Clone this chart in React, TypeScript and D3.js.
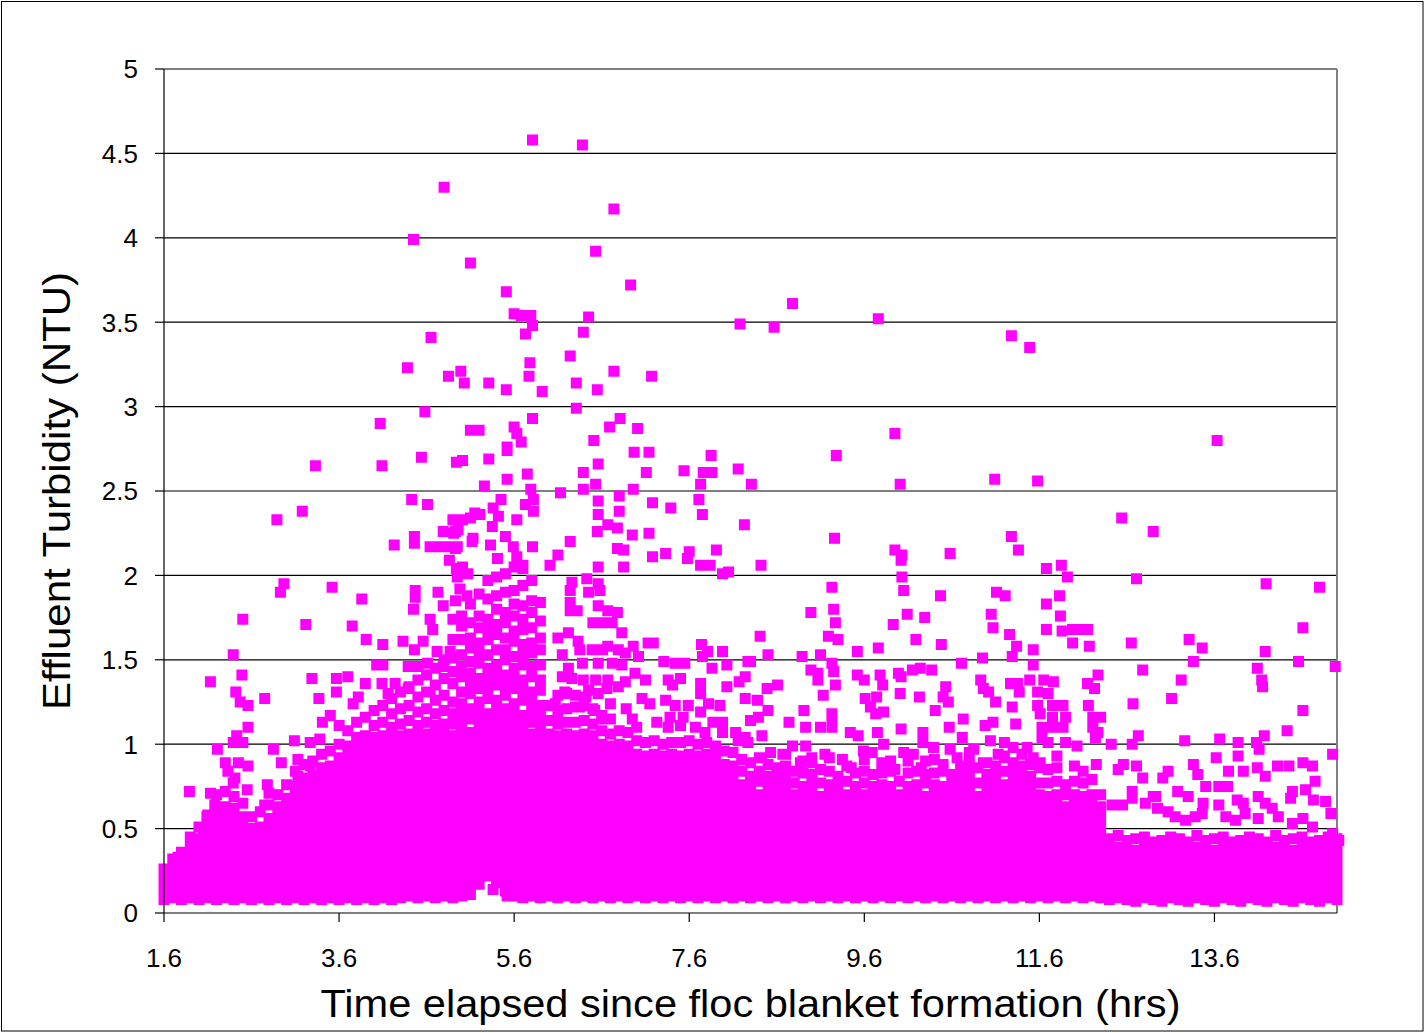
import * as d3 from 'd3'

// axis ticks
const xTicks = [1.6, 3.6, 5.6, 7.6, 9.6, 11.6, 13.6]
const yTicks = [0, 0.5, 1, 1.5, 2, 2.5, 3, 3.5, 4, 4.5, 5]

// dense part of the cloud, read column by column (hours, turbidity in hundredths of NTU)
const cloudHours = [
  1.6, 1.7, 1.8, 1.9, 2.0, 2.1, 2.2, 2.3, 2.4, 2.5, 2.6, 2.7, 2.8, 2.9, 3.0, 3.1, 3.2, 3.3, 3.4, 3.5,
  3.6, 3.7, 3.8, 3.9, 4.0, 4.1, 4.2, 4.3, 4.4, 4.5, 4.6, 4.7, 4.8, 4.9, 5.0, 5.1, 5.2, 5.3, 5.4, 5.5,
  5.6, 5.7, 5.8, 5.9, 6.0, 6.1, 6.2, 6.3, 6.4, 6.5, 6.6, 6.7, 6.8, 6.9, 7.0, 7.1, 7.2, 7.3, 7.4, 7.5,
  7.6, 7.7, 7.8, 7.9, 8.0, 8.1, 8.2, 8.3, 8.4, 8.5, 8.6, 8.7, 8.8, 8.9, 9.0, 9.1, 9.2, 9.3, 9.4, 9.5,
  9.6, 9.7, 9.8, 9.9, 10.0, 10.1, 10.2, 10.3, 10.4, 10.5, 10.6, 10.7, 10.8, 10.9, 11.0, 11.1, 11.2, 11.3, 11.4, 11.5,
  11.6, 11.7, 11.8, 11.9, 12.0, 12.1, 12.2, 12.3, 12.4, 12.5, 12.6, 12.7, 12.8, 12.9, 13.0, 13.1, 13.2, 13.3, 13.4, 13.5,
  13.6, 13.7, 13.8, 13.9, 14.0, 14.1, 14.2, 14.3, 14.4, 14.5, 14.6, 14.7, 14.8, 14.9, 15.0,
]

const cloudCentiNTU: number[][] = [
  [8, 14, 20, 26],
  [9, 15, 21, 27, 32],
  [8, 14, 20, 26, 32, 36],
  [9, 15, 21, 27, 33, 39, 45],
  [8, 14, 20, 26, 32, 38, 44, 51],
  [9, 15, 21, 27, 33, 39, 45, 51, 58],
  [8, 14, 20, 26, 32, 38, 44, 50, 56, 62, 70],
  [9, 15, 21, 27, 33, 39, 45, 51, 57, 63, 72],
  [8, 14, 20, 26, 32, 38, 44, 50, 56, 62, 69],
  [9, 15, 21, 27, 33, 39, 45, 51, 57, 65],
  [8, 14, 20, 26, 32, 38, 44, 50, 57],
  [9, 15, 21, 27, 33, 39, 45, 51, 60],
  [8, 14, 20, 26, 32, 38, 44, 50, 56, 64],
  [9, 15, 21, 27, 33, 39, 45, 51, 57, 63, 70],
  [8, 14, 20, 26, 32, 38, 44, 50, 56, 62, 68, 76],
  [9, 15, 21, 27, 33, 39, 45, 51, 57, 63, 69, 75, 84],
  [8, 14, 20, 26, 32, 38, 44, 50, 56, 62, 68, 74, 80, 88],
  [9, 15, 21, 27, 33, 39, 45, 51, 57, 63, 69, 75, 81, 90],
  [8, 14, 20, 26, 32, 38, 44, 50, 56, 62, 68, 74, 80, 86, 94],
  [9, 15, 21, 27, 33, 39, 45, 51, 57, 63, 69, 75, 81, 87, 96],
  [8, 14, 20, 26, 32, 38, 44, 50, 56, 62, 68, 74, 80, 86, 92, 100],
  [9, 15, 21, 27, 33, 39, 45, 51, 57, 63, 69, 75, 81, 87, 93, 99, 108],
  [8, 14, 20, 26, 32, 38, 44, 50, 56, 62, 68, 74, 80, 86, 92, 98, 104, 113],
  [9, 15, 21, 27, 33, 39, 45, 51, 57, 63, 69, 75, 81, 87, 93, 99, 105, 116],
  [8, 14, 20, 26, 32, 38, 44, 50, 56, 62, 68, 74, 80, 86, 92, 98, 104, 111, 120],
  [9, 15, 21, 27, 33, 39, 45, 51, 57, 63, 69, 75, 81, 87, 93, 99, 105, 113, 123],
  [8, 14, 20, 26, 32, 38, 44, 50, 56, 62, 68, 74, 80, 86, 92, 98, 104, 110, 118, 127],
  [9, 15, 21, 27, 33, 39, 45, 51, 57, 63, 69, 75, 81, 87, 93, 99, 105, 112, 121, 131],
  [10, 16, 22, 28, 34, 40, 46, 52, 58, 64, 70, 76, 82, 88, 94, 100, 106, 114, 123, 134],
  [9, 15, 21, 27, 33, 39, 45, 51, 57, 63, 69, 75, 81, 87, 93, 99, 105, 111, 119, 128, 138],
  [10, 16, 22, 28, 34, 40, 46, 52, 58, 64, 70, 76, 82, 88, 94, 100, 106, 113, 121, 131, 141],
  [9, 15, 21, 27, 33, 39, 45, 51, 57, 63, 69, 75, 81, 87, 93, 99, 105, 111, 118, 126, 135, 145],
  [10, 16, 22, 28, 34, 40, 46, 52, 58, 64, 70, 76, 82, 88, 94, 100, 106, 112, 120, 129, 139, 150],
  [9, 15, 21, 27, 33, 39, 45, 51, 57, 63, 69, 75, 81, 87, 93, 99, 105, 112, 118, 125, 136, 143, 151, 162],
  [10, 16, 22, 28, 34, 40, 46, 52, 58, 64, 70, 76, 82, 88, 94, 100, 106, 112, 118, 124, 131, 140, 146, 153, 162, 170, 176],
  [11, 17, 23, 29, 35, 41, 47, 53, 59, 65, 71, 77, 83, 89, 95, 101, 107, 115, 121, 130, 136, 142, 149, 157, 163, 172, 183],
  [17, 23, 29, 35, 41, 47, 53, 59, 65, 71, 77, 83, 89, 95, 101, 107, 113, 119, 125, 133, 139, 148, 154, 160, 169, 176, 189],
  [22, 28, 34, 40, 46, 52, 58, 64, 70, 76, 82, 88, 94, 100, 106, 112, 118, 127, 133, 139, 145, 153, 162, 168, 174, 186, 197],
  [18, 24, 30, 36, 42, 48, 54, 60, 66, 72, 78, 84, 90, 96, 102, 108, 114, 120, 126, 135, 141, 147, 156, 165, 171, 180, 188, 199],
  [13, 19, 25, 31, 37, 43, 49, 55, 61, 67, 73, 79, 85, 91, 97, 103, 109, 115, 121, 129, 135, 141, 150, 156, 163, 172, 178, 190, 201],
  [10, 16, 22, 28, 34, 40, 46, 52, 58, 64, 70, 76, 82, 88, 94, 100, 106, 112, 118, 124, 133, 139, 145, 152, 161, 167, 176, 183, 191, 205],
  [9, 15, 21, 27, 33, 39, 45, 51, 57, 63, 69, 75, 81, 87, 93, 99, 105, 111, 117, 126, 132, 138, 147, 153, 159, 168, 174, 182, 194, 204],
  [10, 16, 22, 28, 34, 40, 46, 52, 58, 64, 70, 76, 82, 88, 94, 100, 106, 113, 119, 125, 131, 140, 146, 154, 160, 169, 178, 185, 197],
  [9, 15, 21, 27, 33, 39, 45, 51, 57, 63, 69, 75, 81, 87, 93, 99, 105, 111, 117, 123, 132, 138, 147, 156, 163, 173, 184],
  [10, 16, 22, 28, 34, 40, 46, 52, 58, 64, 70, 76, 82, 88, 94, 100, 106, 114, 123],
  [9, 15, 21, 27, 33, 39, 45, 51, 57, 63, 69, 75, 81, 87, 93, 99, 105, 112, 120, 129],
  [10, 16, 22, 28, 34, 40, 46, 52, 58, 64, 70, 76, 82, 88, 94, 100, 106, 113, 121, 130],
  [9, 15, 21, 27, 33, 39, 45, 51, 57, 63, 69, 75, 81, 87, 93, 99, 105, 113, 122],
  [10, 16, 22, 28, 34, 40, 46, 52, 58, 64, 70, 76, 82, 88, 94, 100, 106, 114, 123],
  [9, 15, 21, 27, 33, 39, 45, 51, 57, 63, 69, 75, 81, 87, 93, 99, 105, 112, 121],
  [10, 16, 22, 28, 34, 40, 46, 52, 58, 64, 70, 76, 82, 88, 94, 100, 108, 117],
  [9, 15, 21, 27, 33, 39, 45, 51, 57, 63, 69, 75, 81, 87, 93, 99, 106, 115],
  [10, 16, 22, 28, 34, 40, 46, 52, 58, 64, 70, 76, 82, 88, 94, 100, 108],
  [9, 15, 21, 27, 33, 39, 45, 51, 57, 63, 69, 75, 81, 87, 93, 99, 107],
  [10, 16, 22, 28, 34, 40, 46, 52, 58, 64, 70, 76, 82, 88, 94, 102, 110],
  [9, 15, 21, 27, 33, 39, 45, 51, 57, 63, 69, 75, 81, 87, 93, 101],
  [10, 16, 22, 28, 34, 40, 46, 52, 58, 64, 70, 76, 82, 88, 94, 102],
  [9, 15, 21, 27, 33, 39, 45, 51, 57, 63, 69, 75, 81, 87, 93, 100],
  [10, 16, 22, 28, 34, 40, 46, 52, 58, 64, 70, 76, 82, 88, 94, 101],
  [9, 15, 21, 27, 33, 39, 45, 51, 57, 63, 69, 75, 81, 87, 93, 101],
  [10, 16, 22, 28, 34, 40, 46, 52, 58, 64, 70, 76, 82, 88, 94, 102],
  [9, 15, 21, 27, 33, 39, 45, 51, 57, 63, 69, 75, 81, 87, 93, 100],
  [10, 16, 22, 28, 34, 40, 46, 52, 58, 64, 70, 76, 82, 88, 94, 101],
  [9, 15, 21, 27, 33, 39, 45, 51, 57, 63, 69, 75, 81, 87, 93, 99],
  [10, 16, 22, 28, 34, 40, 46, 52, 58, 64, 70, 76, 82, 88, 96],
  [9, 15, 21, 27, 33, 39, 45, 51, 57, 63, 69, 75, 81, 87, 95],
  [10, 16, 22, 28, 34, 40, 46, 52, 58, 64, 70, 76, 84, 91],
  [9, 15, 21, 27, 33, 39, 45, 51, 57, 63, 69, 75, 81, 89],
  [10, 16, 22, 28, 34, 40, 46, 52, 58, 64, 70, 78, 84, 92],
  [9, 15, 21, 27, 33, 39, 45, 51, 57, 63, 69, 75, 81, 88],
  [10, 16, 22, 28, 34, 40, 46, 52, 58, 64, 70, 76, 86],
  [9, 15, 21, 27, 33, 39, 45, 51, 57, 63, 69, 75, 81, 87, 94],
  [10, 16, 22, 28, 34, 40, 46, 52, 58, 64, 70, 77, 84],
  [9, 15, 21, 27, 33, 39, 45, 51, 57, 63, 69, 75, 83, 90],
  [10, 16, 22, 28, 34, 40, 46, 52, 58, 64, 70, 76, 82, 89],
  [9, 15, 21, 27, 33, 39, 45, 51, 57, 63, 69, 77, 85],
  [10, 16, 22, 28, 34, 40, 46, 52, 58, 64, 70, 76, 84, 92],
  [9, 15, 21, 27, 33, 39, 45, 51, 57, 63, 69, 75, 81],
  [10, 16, 22, 28, 34, 40, 46, 52, 58, 64, 70, 78, 87],
  [9, 15, 21, 27, 33, 39, 45, 51, 57, 63, 69, 75, 83],
  [10, 16, 22, 28, 34, 40, 46, 52, 58, 64, 70, 77, 84, 91],
  [9, 15, 21, 27, 33, 39, 45, 51, 57, 63, 69, 75, 82],
  [10, 16, 22, 28, 34, 40, 46, 52, 58, 64, 70, 76, 83, 89],
  [9, 15, 21, 27, 33, 39, 45, 51, 57, 63, 69, 75, 84],
  [10, 16, 22, 28, 34, 40, 46, 52, 58, 64, 70, 78],
  [9, 15, 21, 27, 33, 39, 45, 51, 57, 63, 69, 75, 83, 90],
  [10, 16, 22, 28, 34, 40, 46, 52, 58, 64, 70, 76, 84],
  [9, 15, 21, 27, 33, 39, 45, 51, 57, 63, 69, 77, 82],
  [10, 16, 22, 28, 34, 40, 46, 52, 58, 64, 70, 76, 83, 91],
  [9, 15, 21, 27, 33, 39, 45, 51, 57, 63, 69, 75, 84],
  [10, 16, 22, 28, 34, 40, 46, 52, 58, 64, 70, 76, 82],
  [9, 15, 21, 27, 33, 39, 45, 51, 57, 63, 69, 75, 81, 87],
  [10, 16, 22, 28, 34, 40, 46, 52, 58, 64, 70, 76, 82, 88, 95],
  [9, 15, 21, 27, 33, 39, 45, 51, 57, 63, 69, 77, 86],
  [10, 16, 22, 28, 34, 40, 46, 52, 58, 64, 70, 76, 82, 89],
  [9, 15, 21, 27, 33, 39, 45, 51, 57, 63, 69, 75, 81, 87],
  [10, 16, 22, 28, 34, 40, 46, 52, 58, 64, 70, 76, 84, 92],
  [9, 15, 21, 27, 33, 39, 45, 51, 57, 63, 69, 75, 81, 86],
  [10, 16, 22, 28, 34, 40, 46, 52, 58, 64, 70, 76, 82, 87, 94],
  [9, 15, 21, 27, 33, 39, 45, 51, 57, 63, 69, 75, 81, 88],
  [10, 16, 22, 28, 34, 40, 46, 52, 58, 64, 70, 77, 86],
  [9, 15, 21, 27, 33, 39, 45, 51, 57, 63, 69, 77, 85],
  [10, 16, 22, 28, 34, 40, 46, 52, 58, 64, 70, 78, 86, 93],
  [9, 15, 21, 27, 33, 39, 45, 51, 57, 63, 70, 76],
  [10, 16, 22, 28, 34, 40, 46, 52, 58, 64, 70, 78, 87],
  [9, 15, 21, 27, 33, 39, 45, 51, 57, 63, 69, 77, 84],
  [10, 16, 22, 28, 34, 40, 46, 52, 58, 64, 70, 79],
  [9, 15, 21, 27, 33, 39, 45, 51, 57, 63, 70],
  [8, 14, 20, 26, 32, 38, 44],
  [9, 15, 21, 27, 33, 39, 46],
  [8, 14, 20, 26, 32, 38, 43],
  [7, 13, 19, 25, 31, 37, 44],
  [9, 15, 21, 27, 33, 39, 45],
  [8, 14, 20, 26, 32, 38, 42],
  [7, 13, 19, 25, 31, 37, 43],
  [9, 15, 21, 27, 33, 39, 45],
  [8, 14, 20, 26, 32, 38, 44],
  [7, 13, 19, 25, 31, 37, 42],
  [9, 15, 21, 27, 33, 39, 46],
  [8, 14, 20, 26, 32, 38, 43],
  [7, 13, 19, 25, 31, 37, 44],
  [9, 15, 21, 27, 33, 39, 45],
  [8, 14, 20, 26, 32, 38, 42],
  [7, 13, 19, 25, 31, 37, 43],
  [9, 15, 21, 27, 33, 39, 45],
  [8, 14, 20, 26, 32, 38, 44],
  [7, 13, 19, 25, 31, 37, 42],
  [9, 15, 21, 27, 33, 39, 46],
  [8, 14, 20, 26, 32, 38, 43],
  [7, 13, 19, 25, 31, 37, 44],
  [9, 15, 21, 27, 33, 39, 45],
  [8, 14, 20, 26, 32, 38, 42],
  [7, 13, 19, 25, 31, 37, 43],
  [9, 15, 21, 27, 33, 39, 45],
  [8, 14, 20, 26, 32, 38, 44],
]

// scattered readings above the dense cloud: [hours, NTU]
const peaks: [number, number][] = [
  [5.81, 4.58], [6.38, 4.55], [4.8, 4.3], [6.74, 4.17], [4.45, 3.99], [6.53, 3.92], [5.1, 3.85], [6.93, 3.72], [5.51, 3.68], [8.78, 3.61],
  [5.6, 3.55], [5.68, 3.54], [5.79, 3.54], [5.81, 3.48], [5.73, 3.43], [9.76, 3.52], [6.45, 3.53], [8.18, 3.49], [8.57, 3.47], [6.39, 3.44],
  [11.28, 3.42], [4.65, 3.41], [11.49, 3.35], [6.24, 3.3], [5.78, 3.26], [4.38, 3.23], [4.99, 3.21], [6.74, 3.21], [4.85, 3.18], [5.77, 3.18],
  [7.17, 3.18], [5.03, 3.14], [5.31, 3.14], [6.31, 3.14], [5.51, 3.1], [6.55, 3.1], [5.92, 3.09], [6.31, 2.99], [4.58, 2.97], [5.81, 2.93],
  [6.81, 2.93], [4.07, 2.9], [5.6, 2.88], [5.63, 2.84], [5.68, 2.79], [6.69, 2.88], [7.01, 2.87], [5.1, 2.86], [5.2, 2.86], [9.95, 2.84],
  [13.63, 2.8], [6.51, 2.8], [5.52, 2.76], [6.97, 2.73], [7.14, 2.73], [7.85, 2.71], [9.28, 2.71], [4.54, 2.7], [4.94, 2.67], [5.01, 2.68],
  [5.31, 2.69], [3.33, 2.65], [4.09, 2.65], [10.01, 2.54], [11.09, 2.57], [11.58, 2.56], [8.31, 2.54],
]

const midCloud: [number, number][] = [
  [5.52, 2.57], [5.26, 2.53], [5.75, 2.6], [5.52, 2.74], [5.79, 2.51], [5.82, 2.45], [5.45, 2.45], [5.36, 2.4], [5.21, 2.36], [5.1, 2.34],
  [5.73, 2.42], [5.82, 2.38], [5.63, 2.33], [5.42, 2.35], [5.35, 2.29], [5.5, 2.23], [5.13, 2.22], [5.33, 2.18], [5.59, 2.17], [5.81, 2.17],
  [5.63, 2.11], [5.41, 2.1], [5.7, 2.06], [6.01, 2.06], [6.1, 2.12], [6.24, 2.2], [6.13, 2.49], [6.39, 2.61], [6.56, 2.66], [6.53, 2.54],
  [6.39, 2.51], [6.56, 2.44], [6.8, 2.47], [6.96, 2.51], [6.56, 2.36], [6.8, 2.38], [6.67, 2.3], [6.55, 2.26], [6.78, 2.28], [6.95, 2.24],
  [7.14, 2.25], [6.78, 2.16], [6.85, 2.15], [7.18, 2.11], [7.33, 2.13], [6.56, 2.05], [6.85, 2.05], [7.11, 2.61], [7.54, 2.62], [7.18, 2.43],
  [7.39, 2.4], [7.76, 2.61], [7.86, 2.61], [7.73, 2.54], [7.71, 2.45], [7.75, 2.36], [7.6, 2.14], [7.58, 2.1], [7.73, 2.06], [7.84, 2.06],
  [7.91, 2.15], [8.16, 2.63], [8.23, 2.3], [7.98, 2.01], [8.05, 2.02],
  [5.01, 2.33], [5.15, 2.37], [4.93, 2.26], [4.96, 2.27], [5.12, 2.2], [4.93, 2.16], [5.01, 2.05], [4.95, 1.99], [5.07, 2.01],
  [4.98, 1.92], [5.06, 1.88], [4.93, 1.85], [5.36, 0.14], [5.52, 0.1],
  [4.43, 2.45], [4.61, 2.42], [3.18, 2.38], [2.89, 2.33], [4.9, 2.33], [4.79, 2.26], [4.91, 2.25], [4.46, 2.23], [4.46, 2.19], [4.23, 2.18],
  [4.64, 2.17], [4.75, 2.17], [4.87, 2.17], [4.95, 2.17], [4.86, 2.09], [4.94, 2.04], [2.97, 1.95], [2.93, 1.9], [3.52, 1.93], [4.47, 1.91],
  [4.47, 1.87], [4.73, 1.9], [4.79, 1.82], [3.86, 1.86], [2.5, 1.74], [3.22, 1.71], [3.75, 1.7], [4.45, 1.8], [4.64, 1.74], [4.67, 1.68],
  [4.9, 1.74], [3.91, 1.62], [4.1, 1.59], [4.33, 1.61], [4.46, 1.56], [4.56, 1.61], [4.72, 1.55], [4.87, 1.55], [2.39, 1.53], [2.13, 1.37],
  [2.49, 1.41], [4.03, 1.47], [4.1, 1.47], [4.39, 1.46], [4.5, 1.46], [4.61, 1.48], [4.79, 1.46], [3.29, 1.39], [3.57, 1.39], [3.7, 1.4],
  [2.42, 1.31], [2.47, 1.25], [2.56, 1.23], [2.75, 1.27], [3.37, 1.27], [3.57, 1.31], [3.9, 1.36], [4.09, 1.36], [4.24, 1.36], [3.76, 1.24],
  [3.82, 1.28], [4.16, 1.3], [4.39, 1.33], [4.64, 1.31], [3.5, 1.17], [3.41, 1.13], [3.6, 1.11], [2.56, 1.1], [2.43, 1.05], [2.5, 1.01],
  [2.39, 1.01], [2.21, 0.97], [2.85, 0.97], [3.09, 1.02], [3.27, 1.01], [3.38, 1.03], [2.3, 0.89], [2.45, 0.89], [2.56, 0.87], [2.94, 0.89],
  [3.13, 0.91], [3.27, 0.87], [2.33, 0.84], [2.41, 0.8], [2.39, 0.77], [3.13, 0.81], [1.89, 0.72], [2.13, 0.71], [2.55, 0.73], [2.78, 0.76],
  [2.8, 0.71], [2.75, 0.64], [2.18, 0.64], [2.09, 0.57], [2.09, 0.51], [1.93, 0.43], [2.05, 0.45], [1.76, 0.33],
  [6.26, 1.96], [6.43, 1.98], [6.56, 1.95], [6.24, 1.91], [6.45, 1.9], [6.58, 1.91], [6.24, 1.84], [6.24, 1.79], [6.32, 1.79], [6.56, 1.82],
  [6.67, 1.79], [6.78, 1.78], [6.5, 1.72], [6.61, 1.72], [6.72, 1.72], [6.83, 1.66], [6.1, 1.63], [6.22, 1.66], [6.33, 1.61], [6.35, 1.56],
  [6.15, 1.53], [6.49, 1.56], [6.61, 1.56], [6.67, 1.58], [6.79, 1.56], [6.87, 1.54], [6.56, 1.48], [6.72, 1.48], [6.83, 1.47], [6.38, 1.48],
  [6.22, 1.45], [6.15, 1.4], [6.26, 1.39], [6.39, 1.38], [6.53, 1.38], [6.67, 1.38], [6.79, 1.34], [6.66, 1.33], [6.18, 1.31], [6.3, 1.29],
  [6.45, 1.32], [6.56, 1.3], [6.07, 1.24], [6.1, 1.18], [6.35, 1.22], [6.52, 1.2], [6.7, 1.24], [6.88, 1.21], [6.95, 1.15], [6.62, 1.15],
  [6.42, 1.28],
  [6.96, 1.58], [7.02, 1.52], [7.13, 1.6], [7.19, 1.6], [7.31, 1.49], [7.44, 1.48], [7.55, 1.48], [6.98, 1.42], [6.87, 1.37], [7.1, 1.38],
  [7.36, 1.38], [7.5, 1.39], [7.41, 1.35], [7.75, 1.52], [7.86, 1.45], [7.98, 1.55], [8.03, 1.47], [8.27, 1.49], [7.74, 1.59], [7.81, 1.55],
  [8.24, 1.4], [8.17, 1.37], [7.73, 1.36], [7.73, 1.3], [8.03, 1.34], [8.24, 1.27], [7.33, 1.26], [7.44, 1.23], [7.59, 1.23], [7.82, 1.24],
  [7.95, 1.23], [8.3, 1.14], [7.73, 1.19], [7.87, 1.13], [7.98, 1.13], [7.38, 1.16], [7.53, 1.16], [7.06, 1.27], [7.15, 1.24], [7.23, 1.13],
  [7.36, 1.1], [7.5, 1.11], [7.67, 1.1], [7.78, 1.07], [7.98, 1.07], [8.13, 1.07], [8.24, 1.04], [8.27, 1.01], [8.16, 1.02],
]

const lateCloud: [number, number][] = [
  [9.26, 2.22], [11.28, 2.23], [9.95, 2.15], [10.03, 2.12], [10.02, 2.09], [10.58, 2.13], [11.36, 2.15], [8.42, 2.06], [11.68, 2.04],
  [10.03, 1.99], [10.05, 1.91], [9.23, 1.93], [10.47, 1.88], [11.11, 1.9], [11.21, 1.88], [11.68, 1.83], [8.99, 1.78], [9.25, 1.8], [9.27, 1.72],
  [10.09, 1.77], [10.29, 1.75], [11.05, 1.77], [11.07, 1.69], [9.93, 1.71], [11.68, 1.68], [8.41, 1.64], [9.19, 1.64], [9.3, 1.62], [10.19, 1.62],
  [10.48, 1.59], [11.26, 1.65], [11.34, 1.58], [11.29, 1.52], [11.53, 1.56], [9.52, 1.55], [9.76, 1.57], [8.5, 1.53], [8.89, 1.52], [9.1, 1.53],
  [9.23, 1.48], [8.3, 1.49], [10.71, 1.48], [10.95, 1.51], [11.53, 1.47], [8.99, 1.44], [9.07, 1.42], [9.07, 1.38], [9.25, 1.43], [9.52, 1.41],
  [9.6, 1.38], [9.78, 1.41], [9.81, 1.35], [9.99, 1.42], [10.02, 1.4], [10.15, 1.44], [10.24, 1.45], [10.37, 1.44], [10.93, 1.38], [10.96, 1.33],
  [11.27, 1.36], [11.35, 1.36], [11.49, 1.38], [11.65, 1.38], [8.49, 1.33], [8.61, 1.35], [9.27, 1.35], [10.53, 1.34], [10.01, 1.3], [10.23, 1.28],
  [9.13, 1.29], [9.61, 1.27], [9.67, 1.22], [9.74, 1.28], [10.5, 1.28], [10.56, 1.25], [11.02, 1.31], [11.1, 1.25], [11.37, 1.31], [11.58, 1.31],
  [11.58, 1.23], [8.38, 1.26], [8.5, 1.2], [8.91, 1.2], [9.23, 1.18], [9.23, 1.13], [9.73, 1.18], [9.82, 1.19], [10.41, 1.2], [11.29, 1.22],
  [11.61, 1.18], [8.39, 1.16], [8.74, 1.13], [8.93, 1.1], [9.1, 1.1], [9.23, 1.1], [10.02, 1.09], [10.27, 1.07], [10.57, 1.1], [10.73, 1.15],
  [10.98, 1.11], [11.07, 1.13], [11.33, 1.12], [11.63, 1.1], [11.63, 1.04], [8.43, 1.05], [9.44, 1.07], [9.53, 1.05], [9.75, 1.07], [10.72, 1.04],
  [11.04, 1.02], [11.2, 1.01], [8.78, 0.99], [8.67, 0.94], [8.93, 0.99], [10.27, 1.01], [8.53, 0.95], [8.43, 0.92], [9.59, 0.96], [9.69, 0.95],
  [9.82, 1.0], [10.05, 0.95], [10.16, 0.94], [10.39, 0.98], [10.58, 0.97], [10.66, 0.92], [10.85, 0.97], [10.96, 0.89], [11.13, 0.94], [11.3, 0.98],
  [11.46, 0.98], [11.3, 0.89], [11.53, 0.92], [11.61, 0.89], [8.87, 0.89], [9.15, 0.94], [8.58, 0.8],
  [9.0, 0.92], [9.35, 0.91], [9.9, 0.9], [10.3, 0.9], [10.5, 0.88], [10.8, 0.91], [11.2, 0.93], [9.45, 0.86], [9.95, 0.85], [10.25, 0.86],
  [12.54, 2.34], [12.9, 2.26], [11.85, 2.06], [11.92, 1.99], [12.71, 1.98], [14.19, 1.95], [14.8, 1.93],
  [11.83, 1.88], [11.84, 1.76], [11.86, 1.67], [11.98, 1.68], [12.09, 1.68], [12.15, 1.68],
  [14.61, 1.69], [11.98, 1.6], [12.17, 1.58], [12.65, 1.6], [13.31, 1.62], [13.46, 1.57], [14.18, 1.55], [13.36, 1.49], [14.09, 1.45], [14.56, 1.49],
  [14.98, 1.46], [12.78, 1.44], [11.76, 1.37], [12.27, 1.41], [12.15, 1.36], [12.23, 1.33], [13.22, 1.38], [14.14, 1.38], [14.15, 1.34], [13.11, 1.27],
  [11.7, 1.3], [11.75, 1.23], [11.87, 1.23], [12.16, 1.23], [12.67, 1.24], [14.61, 1.2], [11.75, 1.16], [11.9, 1.16], [12.21, 1.16], [12.3, 1.16],
  [14.43, 1.08], [11.75, 1.1], [11.87, 1.1], [12.21, 1.1], [12.27, 1.07], [11.7, 1.01], [11.9, 1.01], [12.03, 0.99], [12.24, 1.04], [12.42, 1.0],
  [12.66, 1.0], [12.73, 1.05], [13.26, 1.02], [13.66, 1.03], [13.87, 1.01], [14.17, 1.05], [14.08, 1.01], [14.11, 0.97], [13.62, 0.92], [13.87, 0.93],
  [14.95, 0.94], [12.25, 0.88], [12.5, 0.85], [12.56, 0.88], [12.71, 0.87], [12.78, 0.8], [13.01, 0.8], [13.07, 0.84], [13.36, 0.88], [13.41, 0.82],
  [13.76, 0.84], [13.93, 0.84], [14.09, 0.86], [14.18, 0.81], [14.32, 0.87], [14.45, 0.87], [14.61, 0.89], [14.72, 0.87], [14.75, 0.78], [13.5, 0.75],
  [13.65, 0.75], [13.75, 0.75], [13.18, 0.72], [13.3, 0.69], [12.66, 0.72], [12.93, 0.69], [13.07, 0.6], [13.47, 0.65], [13.65, 0.64], [13.86, 0.67],
  [13.93, 0.65], [14.1, 0.69], [14.18, 0.65], [14.26, 0.62], [14.49, 0.72], [14.47, 0.68], [14.64, 0.73], [14.73, 0.67], [14.87, 0.66], [14.93, 0.59],
  [12.43, 0.64], [12.55, 0.64], [12.66, 0.68], [12.81, 0.65], [12.9, 0.69], [12.95, 0.62], [13.15, 0.57], [13.27, 0.55], [13.38, 0.57], [13.46, 0.59],
  [13.73, 0.57], [13.84, 0.55], [13.95, 0.59], [14.1, 0.56], [14.33, 0.57], [14.49, 0.53], [14.61, 0.56], [14.72, 0.51], [14.95, 0.47], [15.02, 0.43],
]

const FONT = '"Liberation Sans", Arial, sans-serif'
const MAGENTA = '#FF00FF'

export default function App() {
  const width = 1425
  const height = 1033
  const left = 164
  const right = 1337
  const top = 69
  const bottom = 913
  const marker = 11

  const x = d3.scaleLinear().domain([1.6, 15.0]).range([left, right])
  const y = d3.scaleLinear().domain([0, 5]).range([bottom, top])

  const points: [number, number][] = [
    ...cloudHours.flatMap((h, i) => cloudCentiNTU[i].map((v) => [h, v / 100] as [number, number])),
    ...midCloud,
    ...lateCloud,
    ...peaks,
  ]

  const markers = points
    .map(([h, v]) => `M${(x(h) - marker / 2).toFixed(1)},${(y(v) - marker / 2).toFixed(1)}h${marker}v${marker}h${-marker}z`)
    .join('')

  return (
    <div style={{ position: 'absolute', left: 0, top: 0 }}>
      <svg width={width} height={height} style={{ display: 'block', background: '#fff' }}>
        <rect x={1.5} y={1.5} width={width - 3.5} height={height - 3.5} fill="#fff" stroke="#000" strokeWidth={1} />

        {yTicks.slice(1, -1).map((t) => (
          <line key={t} x1={left} x2={right} y1={y(t)} y2={y(t)} stroke="#000" strokeWidth={1.2} />
        ))}
        <line x1={left} x2={right} y1={top} y2={top} stroke="#808080" strokeWidth={2} />
        <line x1={right} x2={right} y1={top} y2={bottom} stroke="#808080" strokeWidth={2} />

        <path d={markers} fill={MAGENTA} />

        <line x1={left} x2={left} y1={top} y2={bottom} stroke="#000" strokeWidth={1.2} />
        <line x1={left} x2={right} y1={bottom} y2={bottom} stroke="#000" strokeWidth={1.2} />
        {yTicks.map((t) => (
          <g key={t}>
            <line x1={left - 9} x2={left} y1={y(t)} y2={y(t)} stroke="#000" strokeWidth={1.2} />
            <text x={138} y={y(t)} dy="0.36em" textAnchor="end" fontFamily={FONT} fontSize={26}>
              {String(t)}
            </text>
          </g>
        ))}
        {xTicks.map((t) => (
          <g key={t}>
            <line x1={x(t)} x2={x(t)} y1={bottom} y2={bottom + 9} stroke="#000" strokeWidth={1.2} />
            <text x={x(t)} y={967} textAnchor="middle" fontFamily={FONT} fontSize={26}>
              {String(t)}
            </text>
          </g>
        ))}

        <text
          x={(left + right) / 2}
          y={1017}
          textAnchor="middle"
          fontFamily={FONT}
          fontSize={38}
          textLength={860}
          lengthAdjust="spacingAndGlyphs"
        >
          Time elapsed since floc blanket formation (hrs)
        </text>
        <text
          transform={`translate(70,${(top + bottom) / 2}) rotate(-90)`}
          textAnchor="middle"
          fontFamily={FONT}
          fontSize={38}
          textLength={438}
          lengthAdjust="spacingAndGlyphs"
        >
          Effluent Turbidity (NTU)
        </text>
      </svg>
    </div>
  )
}
